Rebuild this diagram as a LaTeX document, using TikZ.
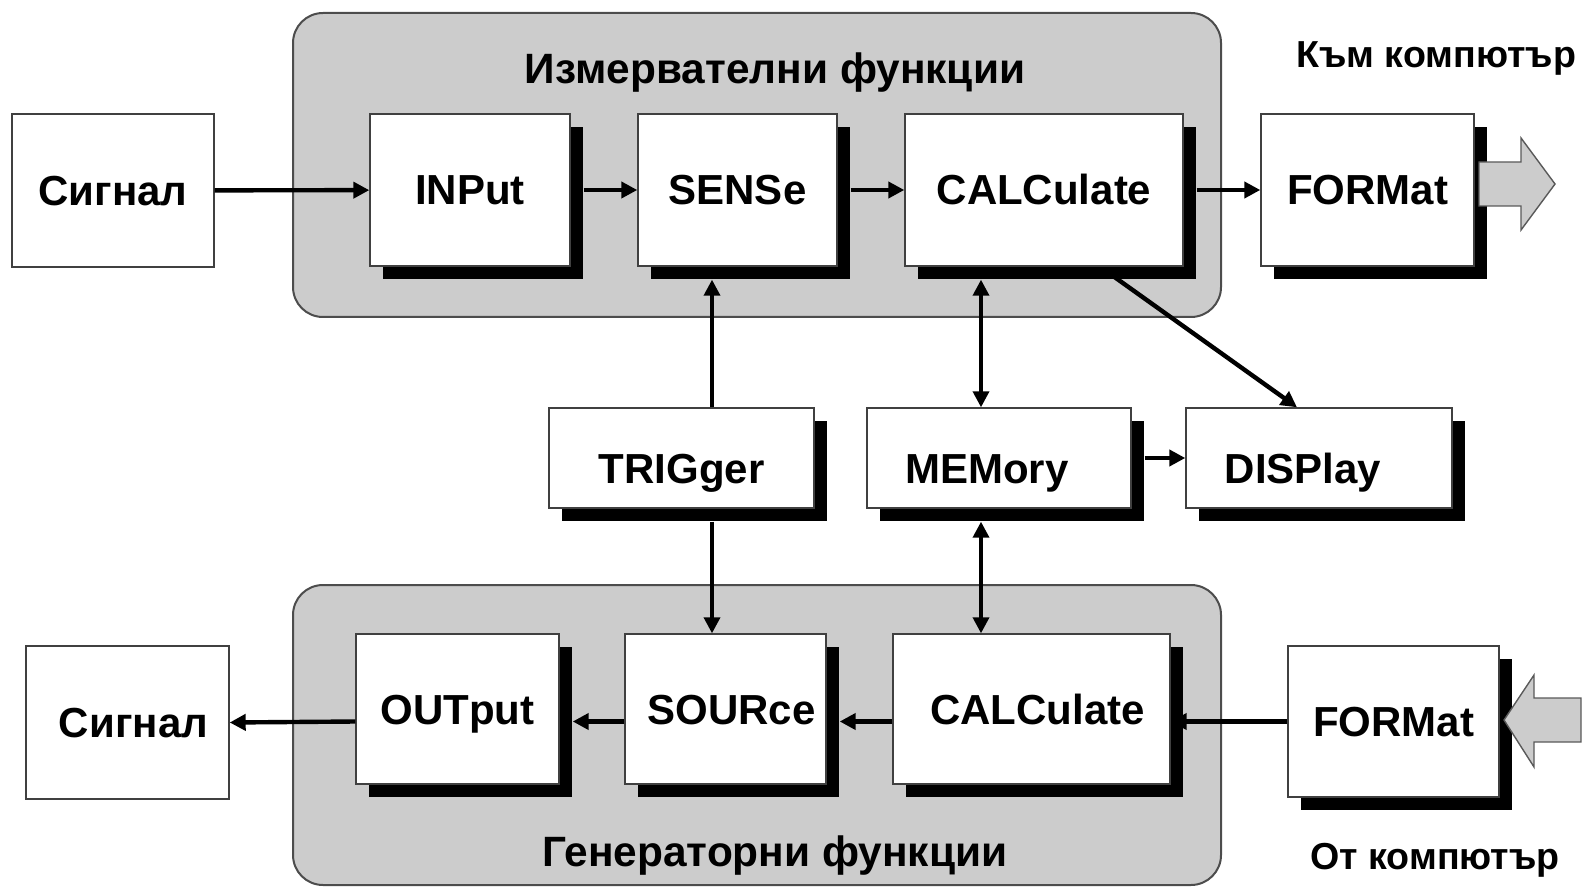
\documentclass[tikz,border=0pt]{standalone}
\usepackage{fontspec}
\setmainfont{Liberation Sans}
\usetikzlibrary{arrows.meta,shadows}

\begin{document}
\begin{tikzpicture}[x=0.5pt,y=-0.5pt,
    blk/.style={draw=black!75,line width=0.7pt,fill=white,inner sep=0pt,
      text height=15pt,text depth=0pt,font=\fontsize{21}{24}\selectfont\bfseries},
    shblk/.style={blk,drop shadow={shadow xshift=6.5pt,shadow yshift=-6.5pt,fill=black,opacity=1}},
    lowtxt/.style={text height=25pt},
    link/.style={line width=2.2pt,-{Triangle[length=8pt,width=8pt]}},
    vlink/.style={line width=1.8pt,-{Triangle[length=8pt,width=8pt]}},
    panel/.style={draw=black!70,line width=1pt,fill=black!20,rounded corners=15pt},
    title/.style={anchor=base,font=\fontsize{21.2}{24}\selectfont\bfseries},
    side/.style={anchor=base,font=\fontsize{18.8}{22}\selectfont\bfseries},
    bigarrow/.style={draw=black!65,line width=0.7pt,fill=black!20,line join=miter}]
  \useasboundingbox (0,0) rectangle (1583,887);

  % function groups
  \draw[panel] (293,13) rectangle (1221,317);
  \draw[panel] (293,585) rectangle (1221,885);
  \node[title] (mtitle) at (775,84) {Измервателни функции};
  \node[title] (gtitle) at (775,866) {Генераторни функции};
  \node[side] (tocomp) at (1436,68) {Към компютър};
  \node[side] (fromcomp) at (1435,869) {От компютър};

  % measuring chain
  \node[blk,minimum width=101pt,minimum height=76.5pt] (sigin) at (113,190.5) {Сигнал};
  \node[shblk,minimum width=100pt,minimum height=76pt] (inp) at (470,190) {INPut};
  \node[shblk,minimum width=99.5pt,minimum height=76pt] (sens) at (737.5,190) {SENSe};
  \node[shblk,minimum width=139pt,minimum height=76pt] (calcm) at (1044,190) {CALCulate};
  \node[shblk,minimum width=106.5pt,minimum height=76pt] (fmtout) at (1367.5,190) {FORMat};

  % middle row
  \node[shblk,lowtxt,minimum width=132.5pt,minimum height=50pt] (trig) at (681.5,458) {TRIGger};
  \node[shblk,lowtxt,minimum width=132pt,minimum height=50pt] (mem) at (999,458) {\hspace{-12pt}MEMory};
  \node[shblk,lowtxt,minimum width=133pt,minimum height=50pt] (disp) at (1319,458) {\hspace{-16pt}DISPlay};

  % generating chain
  \node[blk,minimum width=101.5pt,minimum height=76.5pt] (sigout) at (127.5,722.5) {\hspace{6pt}Сигнал};
  \node[shblk,minimum width=101.5pt,minimum height=75pt] (outp) at (457.5,709) {OUTput};
  \node[shblk,minimum width=100.5pt,minimum height=75pt] (src) at (725.5,709) {\hspace{6pt}SOURce};
  \node[shblk,minimum width=138.5pt,minimum height=75pt] (calcg) at (1031.5,709) {\hspace{6pt}CALCulate};
  \node[shblk,minimum width=105.5pt,minimum height=75.5pt] (fmtin) at (1393.5,721.5) {FORMat};

  \coordinate (tx) at (712,0);
  \coordinate (mx) at (981,0);

  % signal flow
  \draw[link] (sigin) -- (inp);
  \draw[link,shorten <=6.5pt] (inp) -- (sens);
  \draw[link,shorten <=6.5pt] (sens) -- (calcm);
  \draw[link,shorten <=6.5pt] (calcm) -- (fmtout);
  \draw[vlink,shorten >=6.5pt] (trig.north -| tx) -- (sens.south -| tx);
  \draw[vlink,shorten <=6.5pt] (trig.south -| tx) -- (src.north -| tx);
  \draw[vlink,{Triangle[length=8pt,width=8pt]}-{Triangle[length=8pt,width=8pt]},shorten >=6.5pt]
    (mem.north -| mx) -- (calcm.south -| mx);
  \draw[vlink,{Triangle[length=8pt,width=8pt]}-{Triangle[length=8pt,width=8pt]},shorten <=6.5pt]
    (mem.south -| mx) -- (calcg.north -| mx);
  \draw[link,shorten <=7pt] ([xshift=28pt]calcm.south) -- ([xshift=-11pt]disp.north);
  \draw[link,shorten <=6.5pt] (mem) -- (disp);
  \draw[link] (fmtin.west) -- (calcg.east |- fmtin.west);
  \draw[link,shorten >=6.5pt] (calcg.west |- fmtin.west) -- (src.east |- fmtin.west);
  \draw[link,shorten >=6.5pt] (src.west |- fmtin.west) -- (outp.east |- fmtin.west);
  \draw[link] (outp.west |- fmtin.west) -- (sigout.east);

  % computer interface
  \draw[bigarrow] (1479,162) -- (1521,162) -- (1521,138) -- (1555,184) -- (1521,230)
    -- (1521,206) -- (1479,206) -- cycle;
  \draw[bigarrow] (1581,698) -- (1534,698) -- (1534,675) -- (1504,720) -- (1534,767)
    -- (1534,742) -- (1581,742) -- cycle;
\end{tikzpicture}
\end{document}
